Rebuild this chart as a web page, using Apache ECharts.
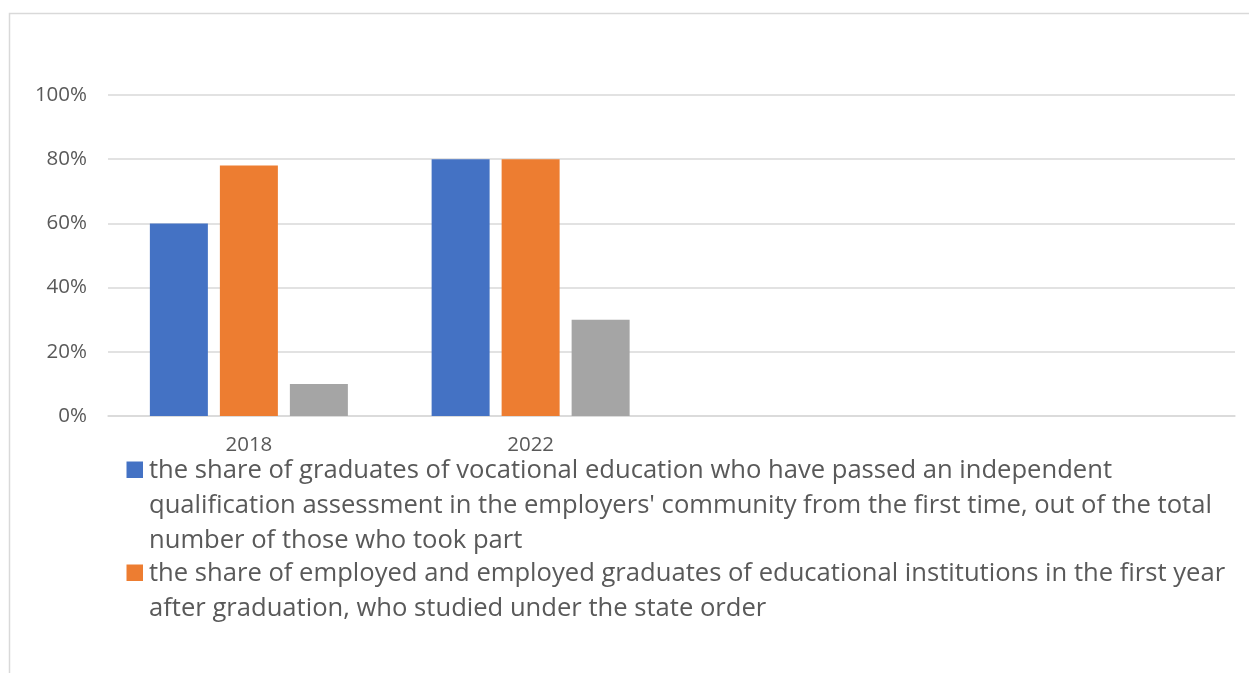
<!DOCTYPE html>
<html>
<head>
<meta charset="utf-8">
<title>Graduates indicators</title>
<script src="https://cdn.jsdelivr.net/npm/echarts@6.0.0/dist/echarts.min.js"></script>
<style>
  html, body { margin: 0; padding: 0; background: #ffffff; }
  #chart { width: 1249px; height: 673px; }
</style>
</head>
<body>
<div id="chart"></div>
<script>
// Categories on the x axis (the last two slots are empty in the source table)
const categories = ['2018', '2022', '', ''];

// Shares, as fractions of 1
const passedAssessment = [0.60, 0.80];
const employedGraduates = [0.78, 0.80];
const thirdIndicator = [0.10, 0.30];

// Series names (legend lines are wrapped by hand)
const seriesNames = [
  'the share of graduates of vocational education who have passed an independent\nqualification assessment in the employers\' community from the first time, out of the total\nnumber of those who took part',
  'the share of employed and employed graduates of educational institutions in the first year\nafter graduation, who studied under the state order',
  'Series 3'
];

// Value axis ticks
const yMin = 0;
const yMax = 1;
const yStep = 0.2;

const colors = ['#4472C4', '#ED7D31', '#A5A5A5'];
const textColor = '#595959';
const gridColor = '#D9D9D9';
const fontFamily = '"Open Sans", "Noto Sans", sans-serif';

const chart = echarts.init(document.getElementById('chart'), null, { renderer: 'canvas' });

const legendFont = '25.6px ' + fontFamily;
const legendLine = 34.8;

const option = {
  backgroundColor: '#ffffff',
  animation: false,
  color: colors,
  textStyle: { fontFamily: fontFamily, color: textColor },
  grid: { left: 108, right: 14, top: 95, bottom: 257, containLabel: false },
  xAxis: {
    type: 'category',
    data: categories,
    axisLine: { show: true, lineStyle: { color: gridColor, width: 1.5 } },
    axisTick: { show: false },
    axisLabel: { color: textColor, fontSize: 20.5, margin: 19, interval: 0 }
  },
  yAxis: {
    type: 'value',
    min: yMin,
    max: yMax,
    interval: yStep,
    axisLine: { show: false },
    axisTick: { show: false },
    splitLine: { lineStyle: { color: gridColor, width: 1.5 } },
    axisLabel: {
      color: textColor,
      fontSize: 20.5,
      margin: 21,
      formatter: function (v) { return Math.round(v * 100) + '%'; }
    }
  },
  series: [
    { name: seriesNames[0], type: 'bar', data: passedAssessment, barWidth: 58, barGap: '20.7%' },
    { name: seriesNames[1], type: 'bar', data: employedGraduates, barWidth: 58, barGap: '20.7%' },
    { name: seriesNames[2], type: 'bar', data: thirdIndicator, barWidth: 58, barGap: '20.7%' }
  ],
  graphic: [
    // chart area frame
    {
      type: 'rect',
      shape: { x: 9.5, y: 13.5, width: 1300, height: 720 },
      style: { fill: 'none', stroke: gridColor, lineWidth: 1.5 },
      silent: true
    },
    // legend entries
    {
      type: 'rect',
      shape: { x: 126.5, y: 461.5, width: 16.5, height: 16.5 },
      style: { fill: colors[0] }
    },
    {
      type: 'text',
      x: 149, y: 453.5,
      style: { text: seriesNames[0], font: legendFont, fill: textColor, lineHeight: legendLine, verticalAlign: 'top' }
    },
    {
      type: 'rect',
      shape: { x: 126.5, y: 564.5, width: 16.5, height: 16.5 },
      style: { fill: colors[1] }
    },
    {
      type: 'text',
      x: 149, y: 556.5,
      style: { text: seriesNames[1], font: legendFont, fill: textColor, lineHeight: legendLine, verticalAlign: 'top' }
    }
  ]
};

chart.setOption(option);
</script>
</body>
</html>
